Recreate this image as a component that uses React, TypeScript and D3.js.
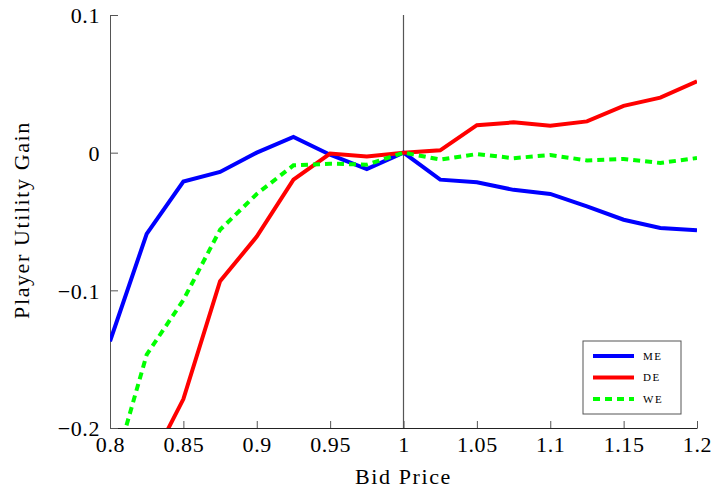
import * as d3 from 'd3'
import { useEffect, useRef } from 'react'

// bid prices on the x axis
const bidPrices = [
  0.8, 0.825, 0.85, 0.875, 0.9, 0.925, 0.95, 0.975, 1.0, 1.025, 1.05, 1.075, 1.1, 1.125, 1.15,
  1.175, 1.2,
]

// player utility gain per series
const meGain = [
  -0.137, -0.059, -0.021, -0.014, 0.0, 0.0115, -0.0015, -0.012, 0.0, -0.0196, -0.0215, -0.027,
  -0.03, -0.039, -0.0487, -0.0547, -0.0564,
]
const deGain = [
  -0.27, -0.231, -0.179, -0.0934, -0.061, -0.0196, -0.0007, -0.0027, 0.0, 0.0017, 0.02, 0.022,
  0.0196, 0.0227, 0.034, 0.04, 0.0518,
]
const weGain = [
  -0.24, -0.1467, -0.107, -0.056, -0.03, -0.0092, -0.008, -0.0087, 0.0, -0.005, -0.001, -0.004,
  -0.0017, -0.0056, -0.0046, -0.0075, -0.0039,
]

const seriesNames = ['ME', 'DE', 'WE']
const xTicks = [0.8, 0.85, 0.9, 0.95, 1, 1.05, 1.1, 1.15, 1.2]
const yTicks = [0.1, 0, -0.1, -0.2]

const FONT = 'Liberation Serif'

const App = () => {
  const ref = useRef<SVGSVGElement>(null)

  useEffect(() => {
    const width = 715
    const height = 492
    const margin = { top: 15, right: 18, bottom: 64, left: 110 }
    const svg = d3.select(ref.current)
    svg.selectAll('*').remove()
    svg.attr('width', width).attr('height', height).attr('font-family', FONT)

    const axisColor = '#555'

    const x = d3
      .scaleLinear()
      .domain([0.8, 1.2])
      .range([margin.left, width - margin.right])
    const y = d3
      .scaleLinear()
      .domain([-0.2, 0.1])
      .range([height - margin.bottom, margin.top])

    svg
      .append('clipPath')
      .attr('id', 'plot-clip')
      .append('rect')
      .attr('x', x(0.8))
      .attr('y', y(0.1))
      .attr('width', x(1.2) - x(0.8))
      .attr('height', y(-0.2) - y(0.1))

    // X axis (ticks pointing inward)
    const xAxis = svg
      .append('g')
      .attr('transform', `translate(0, ${y(-0.2)})`)
      .call(
        d3
          .axisBottom(x)
          .tickValues(xTicks)
          .tickSize(-7)
          .tickSizeOuter(0)
          .tickFormat((d) => d3.format('')(+d))
      )
    xAxis.attr('font-family', FONT).attr('font-size', 22)
    xAxis.select('.domain').attr('stroke', '#222')
    xAxis.selectAll('.tick line').attr('stroke', axisColor)
    xAxis
      .selectAll('.tick text')
      .attr('y', 23.5)
      .attr('dy', 0)
      .attr('fill', '#000')
      .attr('letter-spacing', 0.6)

    // Y axis
    const yAxis = svg
      .append('g')
      .attr('transform', `translate(${x(0.8)}, 0)`)
      .call(
        d3
          .axisLeft(y)
          .tickValues(yTicks)
          .tickSize(-8)
          .tickSizeOuter(0)
          .tickFormat((d) => (+d === 0 ? '0' : d3.format('.1f')(+d).replace('-', '\u2212')))
      )
    yAxis.attr('font-family', FONT).attr('font-size', 22)
    yAxis.select('.domain').attr('stroke', axisColor)
    yAxis.selectAll('.tick line').attr('stroke', axisColor)
    yAxis
      .selectAll('.tick text')
      .attr('x', -10)
      .attr('dy', '0.35em')
      .attr('fill', '#000')
      .attr('letter-spacing', 0.6)

    // vertical reference line at 1
    svg
      .append('line')
      .attr('x1', x(1))
      .attr('x2', x(1))
      .attr('y1', y(0.1))
      .attr('y2', y(-0.2))
      .attr('stroke', axisColor)
      .attr('stroke-width', 1.2)

    const series = [
      { name: seriesNames[0], values: meGain, color: '#0000ff', dash: null },
      { name: seriesNames[1], values: deGain, color: '#ff0000', dash: null },
      { name: seriesNames[2], values: weGain, color: '#00ff00', dash: '7,5' },
    ]

    const line = d3
      .line<number>()
      .x((d, i) => x(bidPrices[i]))
      .y((d) => y(d))

    const plot = svg.append('g').attr('clip-path', 'url(#plot-clip)')
    series.forEach((s) => {
      plot
        .append('path')
        .datum(s.values)
        .attr('d', line)
        .attr('fill', 'none')
        .attr('stroke', s.color)
        .attr('stroke-width', 4)
        .attr('stroke-linejoin', 'miter')
        .attr('stroke-dasharray', s.dash)
    })

    // Axis labels
    svg
      .append('text')
      .attr('text-anchor', 'middle')
      .attr('x', x(1))
      .attr('y', 484)
      .attr('font-size', 22)
      .attr('letter-spacing', 1.6)
      .text('Bid Price')

    svg
      .append('text')
      .attr('text-anchor', 'middle')
      .attr('transform', 'rotate(-90)')
      .attr('x', -220)
      .attr('y', 29)
      .attr('font-size', 22)
      .attr('letter-spacing', 1.6)
      .text('Player Utility Gain')

    // Legend
    const legend = svg.append('g').attr('transform', 'translate(583, 341)')
    legend
      .append('rect')
      .attr('width', 98)
      .attr('height', 73)
      .attr('fill', 'white')
      .attr('stroke', axisColor)
    series.forEach((s, i) => {
      const row = legend.append('g').attr('transform', `translate(0, ${15 + i * 21.5})`)
      row
        .append('line')
        .attr('x1', 10)
        .attr('x2', 51)
        .attr('stroke', s.color)
        .attr('stroke-width', 4)
        .attr('stroke-dasharray', s.dash)
      row
        .append('text')
        .attr('x', 60)
        .attr('dy', '0.35em')
        .attr('font-size', 11)
        .attr('letter-spacing', 1.5)
        .text(s.name)
    })
  }, [])

  return (
    <div>
      <svg ref={ref} style={{ position: 'absolute', left: 0, top: 0 }}></svg>
    </div>
  )
}
export default App
